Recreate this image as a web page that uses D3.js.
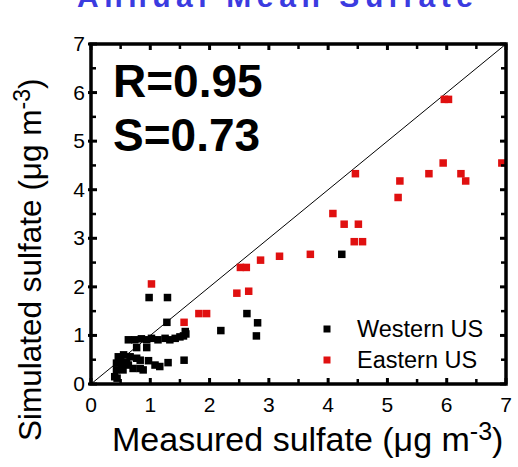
<!DOCTYPE html>
<html lang="en">
  <head>
    <meta charset="utf-8" />
    <title>Sulfate scatter</title>
    <style>
      body { margin: 0; background: #fff; }
      text { font-family: Arial, "Liberation Sans", sans-serif; }
    </style>
  </head>
  <body>
    <script src="https://d3js.org/d3.v7.min.js"></script>
    <div id="my_dataviz"></div>
    <script>
      // data
      const ticks = [0, 1, 2, 3, 4, 5, 6, 7];
      const minorTicks = d3.range(0, 7.01, 0.5);

      const westernUS = [
        [4.23, 2.67], [2.63, 1.45], [2.81, 1.26], [2.79, 0.99], [2.19, 1.10],
        [1.59, 1.08], [1.56, 0.99], [0.98, 1.78], [1.29, 1.78], [1.28, 1.27],
        [1.60, 1.03], [1.50, 0.97], [1.42, 0.94], [1.33, 0.91], [1.25, 0.94],
        [1.02, 0.94], [0.94, 0.91], [0.85, 0.93], [0.74, 0.91], [0.63, 0.91],
        [1.13, 0.91], [0.77, 0.75], [0.94, 0.75], [1.57, 0.49], [1.30, 0.44],
        [1.16, 0.36], [1.08, 0.39], [0.97, 0.48], [0.88, 0.29], [0.46, 0.56],
        [0.55, 0.60], [0.66, 0.56], [0.77, 0.53], [0.83, 0.49], [0.43, 0.43],
        [0.52, 0.36], [0.63, 0.39], [0.71, 0.32], [0.83, 0.32], [0.54, 0.29],
        [0.43, 0.29], [0.40, 0.15], [0.44, 0.12], [0.60, 0.45], [0.50, 0.48]
      ];

      const easternUS = [
        [1.02, 2.06], [1.57, 1.27], [1.82, 1.45], [1.95, 1.45], [2.46, 1.87],
        [2.66, 1.91], [2.52, 2.40], [2.62, 2.40], [2.86, 2.55], [3.18, 2.63],
        [3.70, 2.67], [4.08, 3.51], [4.27, 3.29], [4.51, 3.29], [4.44, 2.93],
        [4.58, 2.93], [4.46, 4.33], [5.18, 3.84], [5.21, 4.18], [5.70, 4.33],
        [5.94, 4.55], [6.24, 4.33], [6.32, 4.18], [6.93, 4.55], [5.96, 5.86],
        [6.03, 5.86]
      ];

      const series = [
        { name: "Western US", color: "#000000", points: westernUS },
        { name: "Eastern US", color: "#e01010", points: easternUS }
      ];

      const W = 518, H = 467;
      const svg = d3.select("#my_dataviz").append("svg")
        .attr("width", W).attr("height", H);

      const x = d3.scaleLinear().domain([0, 7]).range([91, 506]);
      const y = d3.scaleLinear().domain([0, 7]).range([384, 44]);

      // title, mostly cut off by the top edge (as in the source image)
      svg.append("text")
        .attr("x", 77).attr("y", 7)
        .attr("textLength", 396)
        .attr("font-size", 30).attr("font-weight", "bold")
        .attr("fill", "#3b3be0")
        .text("Annual Mean Sulfate");

      // 1:1 line
      svg.append("line")
        .attr("x1", x(0)).attr("y1", y(0))
        .attr("x2", x(7)).attr("y2", y(7))
        .attr("stroke", "#000").attr("stroke-width", 1);

      // points
      series.forEach(s => {
        svg.append("g").selectAll("rect")
          .data(s.points)
          .join("rect")
          .attr("x", d => x(d[0]) - 3.75)
          .attr("y", d => y(d[1]) - 3.75)
          .attr("width", 7.5).attr("height", 7.5)
          .attr("fill", s.color);
      });

      // inward ticks on all four sides
      const tk = svg.append("g").attr("stroke", "#000");
      minorTicks.forEach(v => {
        const len = Number.isInteger(v) ? 6 : 5;
        const sw = Number.isInteger(v) ? 3 : 2.5;
        tk.append("line").attr("x1", x(v)).attr("x2", x(v)).attr("y1", y(0)).attr("y2", y(0) - len).attr("stroke-width", sw);
        tk.append("line").attr("x1", x(v)).attr("x2", x(v)).attr("y1", y(7)).attr("y2", y(7) + len).attr("stroke-width", sw);
        tk.append("line").attr("y1", y(v)).attr("y2", y(v)).attr("x1", x(0) - (Number.isInteger(v) ? 3 : 0)).attr("x2", x(0) + len).attr("stroke-width", sw);
        tk.append("line").attr("y1", y(v)).attr("y2", y(v)).attr("x1", x(7)).attr("x2", x(7) - len).attr("stroke-width", sw);
      });

      // frame
      svg.append("rect")
        .attr("x", x(0)).attr("y", y(7))
        .attr("width", x(7) - x(0)).attr("height", y(0) - y(7))
        .attr("fill", "none").attr("stroke", "#000").attr("stroke-width", 3.5);

      // tick labels
      svg.append("g").selectAll("text")
        .data(ticks).join("text")
        .attr("x", d => x(d)).attr("y", 412)
        .attr("text-anchor", "middle").attr("font-size", 21)
        .text(d => d);
      svg.append("g").selectAll("text")
        .data(ticks).join("text")
        .attr("x", 85).attr("y", d => y(d) + 7)
        .attr("text-anchor", "end").attr("font-size", 21)
        .text(d => d);

      // statistics
      svg.append("text").attr("x", 113).attr("y", 97)
        .attr("font-size", 46).attr("font-weight", "bold").text("R=0.95");
      svg.append("text").attr("x", 113).attr("y", 151)
        .attr("font-size", 46).attr("font-weight", "bold").text("S=0.73");

      // legend
      series.forEach((s, i) => {
        const ly = 329 + i * 31;
        svg.append("rect").attr("x", 323.5).attr("y", ly - 3.5)
          .attr("width", 7).attr("height", 7).attr("fill", s.color);
        svg.append("text").attr("x", 357).attr("y", ly + 8)
          .attr("font-size", 23.5).text(s.name);
      });

      // axis titles
      const xt = svg.append("text").attr("x", 112).attr("y", 451).attr("font-size", 34);
      xt.append("tspan").text("Measured sulfate (\u03bcg m");
      xt.append("tspan").attr("font-size", 25).attr("dy", -11).text("-3");
      xt.append("tspan").attr("dy", 11).text(")");

      const yt = svg.append("text")
        .attr("transform", "translate(41,441) rotate(-90)")
        .attr("font-size", 31.5);
      yt.append("tspan").text("Simulated sulfate (\u03bcg m");
      yt.append("tspan").attr("font-size", 23).attr("dy", -11).text("-3");
      yt.append("tspan").attr("dy", 11).text(")");
    </script>
  </body>
</html>
